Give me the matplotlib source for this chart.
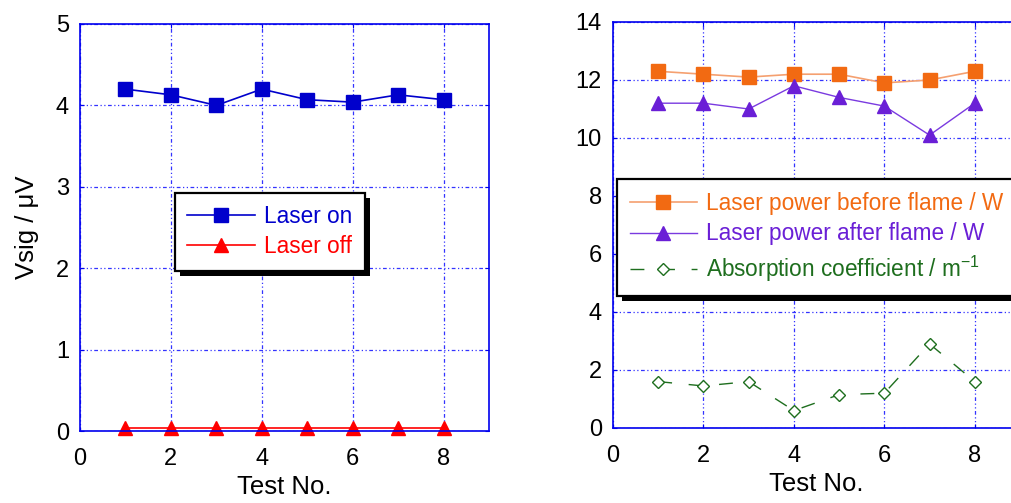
import matplotlib
matplotlib.use("Agg")
import matplotlib.pyplot as plt
from matplotlib.patches import Rectangle
from matplotlib.transforms import IdentityTransform

plt.rcParams['font.family'] = ['Liberation Sans', 'DejaVu Sans']
plt.rcParams['mathtext.fontset'] = 'custom'
plt.rcParams['mathtext.rm'] = 'Liberation Sans'
plt.rcParams['mathtext.default'] = 'regular'

# data
test_no = [1, 2, 3, 4, 5, 6, 7, 8]
laser_on = [4.20, 4.13, 4.00, 4.20, 4.07, 4.04, 4.13, 4.07]
laser_off = [0.04, 0.04, 0.04, 0.04, 0.04, 0.04, 0.04, 0.04]
power_before = [12.3, 12.2, 12.1, 12.2, 12.2, 11.9, 12.0, 12.3]
power_after = [11.2, 11.2, 11.0, 11.8, 11.4, 11.1, 10.1, 11.2]
absorption = [1.6, 1.45, 1.6, 0.6, 1.15, 1.2, 2.9, 1.6]

GRID = dict(color='#3333ff', lw=0.9, dashes=(3, 2, 1, 2, 1, 2))


def style_axes(ax, yticks):
    for s in ax.spines.values():
        s.set_color('#0000ee')
        s.set_linewidth(1.2)
    ax.set_xlim(0, 9)
    ax.set_xticks([0, 2, 4, 6, 8])
    ax.set_yticks(yticks)
    ax.set_ylim(yticks[0], yticks[-1])
    ax.tick_params(direction='in', colors='#0000ee', labelcolor='black',
                   labelsize=17, length=3, top=True, right=True)
    ax.tick_params(axis='x', pad=12)
    ax.tick_params(axis='y', pad=8)
    ax.grid(True, **GRID)
    ax.set_axisbelow(True)
    ax.set_xlabel('Test No.', fontsize=18.5, labelpad=4)


def boxed_legend(ax, anchor, colors, spacing):
    leg = ax.legend(loc='upper left', bbox_to_anchor=anchor,
                    borderaxespad=0, fontsize=16.3, handlelength=3,
                    handletextpad=0.4, labelspacing=spacing, borderpad=0.55,
                    fancybox=False, framealpha=1)
    leg.get_frame().set_edgecolor('black')
    leg.get_frame().set_linewidth(1.6)
    for t, c in zip(leg.get_texts(), colors):
        t.set_color(c)
    return leg


def add_shadow(fig, ax, leg, off=5):
    fig.canvas.draw()
    bb = leg.get_window_extent()
    ax.add_patch(Rectangle((bb.x0 + off, bb.y0 - off), bb.width, bb.height,
                           transform=IdentityTransform(), facecolor='black',
                           edgecolor='none', zorder=4.9, clip_on=False))


fig = plt.figure(figsize=(10.12, 5.03), dpi=100)

# left panel
ax1 = fig.add_axes([80 / 1012, 72 / 503, 409 / 1012, 407 / 503])
style_axes(ax1, [0, 1, 2, 3, 4, 5])
ax1.plot(test_no, laser_on, color='#0000cc', lw=1.2, marker='s', ms=10,
         label='Laser on', clip_on=False)
ax1.plot(test_no, laser_off, color='#ff0000', lw=1.2, marker='^', ms=9.5,
         label='Laser off', clip_on=False)
ax1.set_ylabel('Vsig / μV', fontsize=18.5, labelpad=12)
leg1 = boxed_legend(ax1, (0.232, 0.585), ['#0000cc', '#ff0000'], 0.3)

# right panel
ax2 = fig.add_axes([613 / 1012, 75 / 503, 407 / 1012, 406 / 503])
style_axes(ax2, [0, 2, 4, 6, 8, 10, 12, 14])
ax2.plot(test_no, power_before, color='#f5a070', lw=1.2, marker='s', ms=10,
         mfc='#f26a12', mec='#f26a12', label='Laser power before flame / W')
ax2.plot(test_no, power_after, color='#7a3ae0', lw=1.0, marker='^', ms=10,
         mfc='#6a1fd6', mec='#6a1fd6', label='Laser power after flame / W')
ax2.plot(test_no, absorption, color='#1e6e1e', lw=1.0, dashes=(10, 12),
         marker='D', ms=6.5, mfc='white', mec='#1e6e1e', mew=1.0,
         label='Absorption coefficient / m$^{-1}$')
leg2 = boxed_legend(ax2, (0.01, 0.613), ['#f26a12', '#6a1fd6', '#1e6e1e'], 0.35)

add_shadow(fig, ax1, leg1)
add_shadow(fig, ax2, leg2)

fig.savefig('out.png', dpi=100)
